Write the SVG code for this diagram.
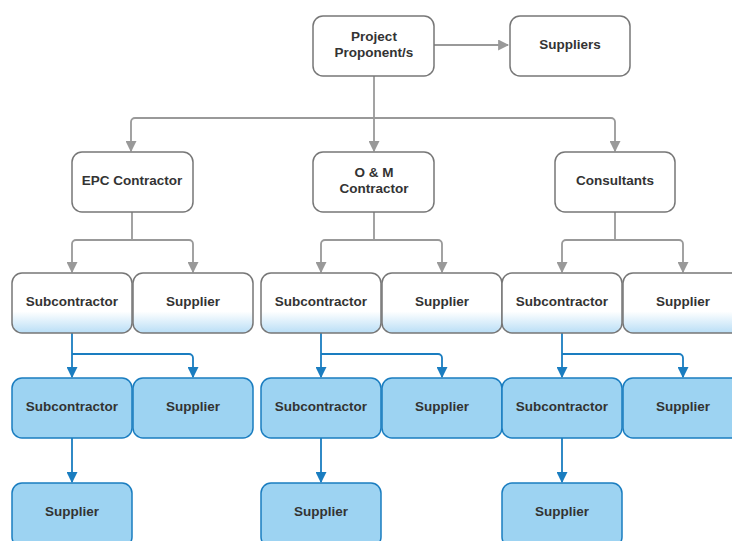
<svg xmlns="http://www.w3.org/2000/svg" width="732" height="541" viewBox="0 0 732 541">
<style>
.n{fill:#fff;stroke:#777;stroke-width:1.5}
.g{fill:url(#grad);stroke:#777;stroke-width:1.5}
.b{fill:#9dd3f2;stroke:#1a7dc0;stroke-width:1.5}
text{font-family:"Liberation Sans",Arial,sans-serif;font-weight:bold;font-size:13.5px;fill:#333;text-anchor:middle}
.cg{fill:none;stroke:#999;stroke-width:1.8}
.cb{fill:none;stroke:#1a7dc0;stroke-width:1.8}
</style>
<defs>
<linearGradient id="grad" x1="0" y1="0" x2="0" y2="1">
<stop offset="0.64" stop-color="#ffffff"/>
<stop offset="1" stop-color="#b9def6"/>
</linearGradient>
<marker id="ag" viewBox="0 0 10 10" refX="9" refY="5" markerWidth="11" markerHeight="11" markerUnits="userSpaceOnUse" orient="auto"><path d="M0,0L10,5L0,10z" fill="#999"/></marker>
<marker id="ab" viewBox="0 0 10 10" refX="9" refY="5" markerWidth="11" markerHeight="11" markerUnits="userSpaceOnUse" orient="auto"><path d="M0,0L10,5L0,10z" fill="#1a7dc0"/></marker>
</defs>
<g id="connectors">
<path class="cg" d="M434,45H508" marker-end="url(#ag)"/>
<path class="cg" d="M374,76V118" />
<path class="cg" d="M374,118H135a4,4 0 0 0 -4,4V151" marker-end="url(#ag)"/>
<path class="cg" d="M374,118V151" marker-end="url(#ag)"/>
<path class="cg" d="M374,118H611a4,4 0 0 1 4,4V151" marker-end="url(#ag)"/>
<path class="cg" d="M132,212V240H76a4,4 0 0 0 -4,4V272" marker-end="url(#ag)"/>
<path class="cg" d="M132,240H189a4,4 0 0 1 4,4V272" marker-end="url(#ag)"/>
<path class="cg" d="M374,212V240H325a4,4 0 0 0 -4,4V272" marker-end="url(#ag)"/>
<path class="cg" d="M374,240H438a4,4 0 0 1 4,4V272" marker-end="url(#ag)"/>
<path class="cg" d="M615,212V240H566a4,4 0 0 0 -4,4V272" marker-end="url(#ag)"/>
<path class="cg" d="M615,240H679a4,4 0 0 1 4,4V272" marker-end="url(#ag)"/>
<path class="cb" d="M72,333V377" marker-end="url(#ab)"/>
<path class="cb" d="M72,354H189a4,4 0 0 1 4,4V377" marker-end="url(#ab)"/>
<path class="cb" d="M321,333V377" marker-end="url(#ab)"/>
<path class="cb" d="M321,354H438a4,4 0 0 1 4,4V377" marker-end="url(#ab)"/>
<path class="cb" d="M562,333V377" marker-end="url(#ab)"/>
<path class="cb" d="M562,354H679a4,4 0 0 1 4,4V377" marker-end="url(#ab)"/>
<path class="cb" d="M72,438V482" marker-end="url(#ab)"/>
<path class="cb" d="M321,438V482" marker-end="url(#ab)"/>
<path class="cb" d="M562,438V482" marker-end="url(#ab)"/>
</g>
<g id="project"><rect class="n" x="313" y="16" width="121" height="60" rx="10"/><text x="374" y="41">Project</text><text x="374" y="57">Proponent/s</text></g>
<g id="suppliers"><rect class="n" x="510" y="16" width="120" height="60" rx="10"/><text x="570" y="49">Suppliers</text></g>
<g id="epc"><rect class="n" x="72" y="152" width="121" height="60" rx="10"/><text x="132" y="185">EPC Contractor</text></g>
<g id="om"><rect class="n" x="313" y="152" width="121" height="60" rx="10"/><text x="374" y="177">O &amp; M</text><text x="374" y="193">Contractor</text></g>
<g id="consultants"><rect class="n" x="555" y="152" width="120" height="60" rx="10"/><text x="615" y="185">Consultants</text></g>
<g id="epc-sub"><rect class="g" x="12" y="273" width="120" height="60" rx="10"/><text x="72" y="306">Subcontractor</text></g>
<g id="epc-sup"><rect class="g" x="133" y="273" width="120" height="60" rx="10"/><text x="193" y="306">Supplier</text></g>
<g id="om-sub"><rect class="g" x="261" y="273" width="120" height="60" rx="10"/><text x="321" y="306">Subcontractor</text></g>
<g id="om-sup"><rect class="g" x="382" y="273" width="120" height="60" rx="10"/><text x="442" y="306">Supplier</text></g>
<g id="con-sub"><rect class="g" x="502" y="273" width="120" height="60" rx="10"/><text x="562" y="306">Subcontractor</text></g>
<g id="con-sup"><rect class="g" x="623" y="273" width="120" height="60" rx="10"/><text x="683" y="306">Supplier</text></g>
<g id="epc-sub2"><rect class="b" x="12" y="378" width="120" height="60" rx="10"/><text x="72" y="411">Subcontractor</text></g>
<g id="epc-sup2"><rect class="b" x="133" y="378" width="120" height="60" rx="10"/><text x="193" y="411">Supplier</text></g>
<g id="om-sub2"><rect class="b" x="261" y="378" width="120" height="60" rx="10"/><text x="321" y="411">Subcontractor</text></g>
<g id="om-sup2"><rect class="b" x="382" y="378" width="120" height="60" rx="10"/><text x="442" y="411">Supplier</text></g>
<g id="con-sub2"><rect class="b" x="502" y="378" width="120" height="60" rx="10"/><text x="562" y="411">Subcontractor</text></g>
<g id="con-sup2"><rect class="b" x="623" y="378" width="120" height="60" rx="10"/><text x="683" y="411">Supplier</text></g>
<g id="epc-sup3"><rect class="b" x="12" y="483" width="120" height="64" rx="10"/><text x="72" y="516">Supplier</text></g>
<g id="om-sup3"><rect class="b" x="261" y="483" width="120" height="64" rx="10"/><text x="321" y="516">Supplier</text></g>
<g id="con-sup3"><rect class="b" x="502" y="483" width="120" height="64" rx="10"/><text x="562" y="516">Supplier</text></g>
</svg>
